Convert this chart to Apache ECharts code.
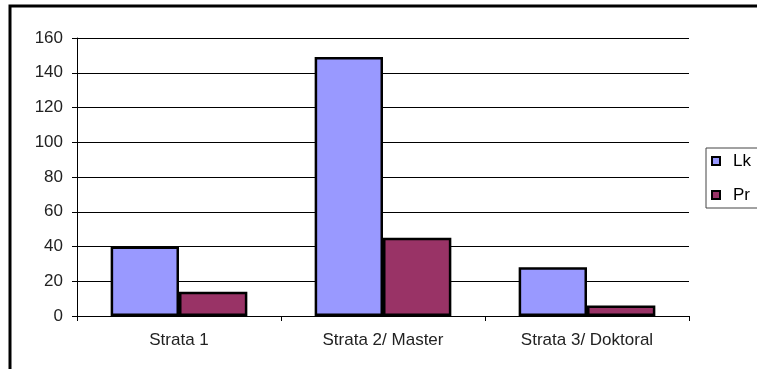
<!DOCTYPE html>
<html>
<head>
<meta charset="utf-8">
<script src="https://cdn.jsdelivr.net/npm/echarts@6/dist/echarts.min.js"></script>
<style>
  html, body { margin: 0; padding: 0; background: #fff; }
  #chart { width: 757px; height: 369px; }
</style>
</head>
<body>
<div id="chart"></div>
<script>
// data
const categories = ['Strata 1', 'Strata 2/ Master', 'Strata 3/ Doktoral'];
const lkValues = [40, 149, 28];
const prValues = [14, 45, 6];
const seriesNames = ['Lk', 'Pr'];

const chart = echarts.init(document.getElementById('chart'));
const font = 'Liberation Sans, Arial, sans-serif';

const option = {
    animation: false,
    backgroundColor: '#fff',
    graphic: [{
        type: 'rect',
        shape: { x: 10, y: 6, width: 800, height: 400 },
        style: { fill: 'none', stroke: '#000', lineWidth: 3 },
        silent: true
    }],
    grid: { left: 77, top: 38, right: 68, bottom: 53 },
    legend: {
        orient: 'vertical',
        left: 706,
        top: 148,
        data: seriesNames,
        itemWidth: 8,
        itemHeight: 8,
        itemGap: 14,
        padding: [3, 40, 3, 5],
        borderColor: '#444',
        borderWidth: 1,
        icon: 'rect',
        itemStyle: { borderColor: '#000', borderWidth: 2 },
        textStyle: {
            fontFamily: font, fontSize: 17, color: '#000',
            lineHeight: 20, padding: [0, 0, 0, 8]
        }
    },
    xAxis: {
        type: 'category',
        data: categories,
        axisLine: { lineStyle: { color: '#000', width: 1 } },
        axisTick: { show: true, length: 5, alignWithLabel: false, lineStyle: { color: '#000' } },
        axisLabel: { fontFamily: font, fontSize: 17, color: '#222', margin: 16 }
    },
    yAxis: {
        type: 'value',
        min: 0,
        max: 160,
        interval: 20,
        axisLine: { show: true, lineStyle: { color: '#000', width: 1 } },
        axisTick: { show: true, length: 5, lineStyle: { color: '#000' } },
        axisLabel: { fontFamily: font, fontSize: 17, color: '#222', margin: 14 },
        splitLine: { show: true, lineStyle: { color: '#000', width: 1 } }
    },
    series: [
        {
            name: seriesNames[0],
            type: 'bar',
            data: lkValues,
            barGap: '0%',
            barCategoryGap: '33%',
            itemStyle: { color: '#9999ff', borderColor: '#000', borderWidth: 2.5 }
        },
        {
            name: seriesNames[1],
            type: 'bar',
            data: prValues,
            barGap: '0%',
            barCategoryGap: '33%',
            itemStyle: { color: '#993366', borderColor: '#000', borderWidth: 2.5 }
        }
    ]
};

chart.setOption(option);
</script>
</body>
</html>
